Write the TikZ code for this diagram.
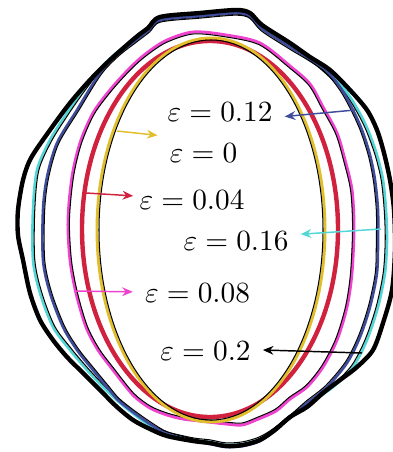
\documentclass[tikz,border=0pt]{standalone}
\usepackage{amsmath,amssymb}
\usepackage{tikz}
\usetikzlibrary{arrows.meta}
\definecolor{gold}{HTML}{E0BE2C}
\definecolor{crimson}{HTML}{D0223E}
\definecolor{orchid}{HTML}{EE42CF}
\definecolor{navy}{HTML}{3E4C9B}
\definecolor{aqua}{HTML}{52D6D6}
\tikzset{
  ring/.style={line width=0.9pt},
  hair/.style={draw=black,line width=0.35pt},
  aquaring/.style={draw=aqua,ring},
  navyring/.style={draw=navy,ring},
  orchidring/.style={draw=orchid,line width=1pt},
  outer/.style={draw=black,line width=1.5pt},
  eps/.style={inner sep=4pt},
  arr/.style={-{Stealth[length=3.6pt,width=3pt]},line width=0.5pt}
}
\begin{document}
\begin{tikzpicture}[x=0.012cm,y=-0.012cm]
    \useasboundingbox (0,0) rectangle (393,452);
    \foreach \sty/\k in {aquaring/1,hair/0.99}
      \draw[\sty,shift={(210,229)},scale=\k,shift={(-210,-229)}]
        plot[smooth cycle] coordinates {(160,19) (200,15) (236,12) (250,15)
        (262,27) (290,45) (310,58) (327,72) (345,90) (358,110) (368,130)
        (377,155) (383,180) (386,210) (387,240) (385,273) (378,307)
        (367,340) (353,367) (333,387) (310,403) (290,418) (275,430)
        (260,439) (243,444) (226,445) (210,442) (193,440) (167,434)
        (150,426) (135,415) (120,403) (103,387) (87,370) (70,350) (53,327)
        (40,293) (33,260) (33,210) (37,170) (50,140) (67,113) (83,90)
        (97,72) (115,54) (135,39) (148,29)};
    \foreach \sty/\k in {navyring/1,hair/0.99}
      \draw[\sty,shift={(210,229)},scale=\k,shift={(-210,-229)}]
        plot[smooth cycle] coordinates {(160,20) (200,16) (236,13) (250,16)
        (262,29) (290,47) (310,59) (327,71) (342,90) (353,110) (362,130)
        (370,155) (375,180) (378,210) (378,240) (377,273) (370,307)
        (360,337) (347,363) (327,387) (307,403) (290,418) (275,430)
        (260,441) (243,446) (226,447) (210,444) (193,441) (167,434)
        (150,424) (133,412) (118,400) (107,387) (93,370) (77,350) (63,327)
        (50,293) (43,260) (43,210) (47,177) (57,143) (77,110) (100,73)
        (118,54) (136,40) (149,30)};
    \draw[outer] plot[smooth cycle] coordinates {(160,17) (200,13) (236,10)
      (250,13) (262,25) (290,43) (310,57) (330,70) (350,90) (367,110)
      (377,130) (384,153) (390,180) (394,210) (395,250) (392,290) (383,323)
      (373,350) (357,367) (340,380) (323,393) (307,407) (290,417) (275,430)
      (260,440) (243,445) (226,446) (210,443) (193,441) (167,436) (150,429)
      (133,420) (117,407) (100,390) (83,373) (67,357) (53,340) (40,320)
      (30,293) (23,260) (18,235) (18,210) (23,180) (31,158) (50,130)
      (70,103) (90,80) (110,60) (135,38) (148,28)};
    \foreach \sty/\k in {orchidring/1,hair/0.99}
      \draw[\sty,shift={(210,229)},scale=\k,shift={(-210,-229)}]
        plot[smooth cycle] coordinates {(193,32) (226,35) (260,43) (290,66)
        (310,84) (323,107) (337,133) (345,160) (352,190) (354,227)
        (352,273) (347,307) (337,340) (323,367) (307,387) (290,399)
        (276,411) (256,420) (242,425) (226,424) (200,421) (183,419)
        (167,415) (150,408) (133,395) (113,370) (98,350) (86,327) (76,293)
        (70,260) (68,220) (72,177) (80,143) (93,113) (110,90) (127,71)
        (143,56) (165,41)};
    \draw[crimson,line width=1.5pt] (210,229) ellipse [x radius=128,y radius=188];
    \draw[gold,line width=1pt] (211,230) ellipse [x radius=114,y radius=192];
    \draw[hair] (211,230) ellipse [x radius=112,y radius=190];
    \node[eps] (e12) at (220,112) {$\varepsilon=0.12$};
    \node[eps] (e0) at (203.5,153) {$\varepsilon=0$};
    \node[eps,inner sep=2pt] (e04) at (192,200) {$\varepsilon=0.04$};
    \node[eps] (e16) at (236,241) {$\varepsilon=0.16$};
    \node[eps] (e08) at (197.5,293) {$\varepsilon=0.08$};
    \node[eps] (e20) at (205.5,351) {$\varepsilon=0.2$};
    \coordinate (t12) at (355,110);
    \coordinate (t0) at (117,131);
    \coordinate (t04) at (86,193);
    \coordinate (t16) at (381,229);
    \coordinate (t08) at (75,291);
    \coordinate (t20) at (362,353);
    \foreach \n/\col/\ang in {12/navy/-4,0/gold/159,04/crimson/176,
        16/aqua/6,08/orchid/179,20/black/1}
      \draw[arr,\col] (t\n) -- (e\n.\ang);
  \end{tikzpicture}
\end{document}
